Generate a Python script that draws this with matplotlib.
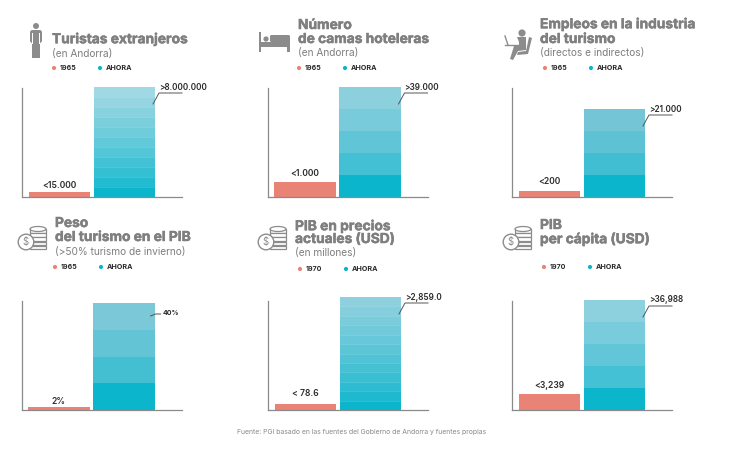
import numpy as np
import matplotlib
matplotlib.use("Agg")
import matplotlib.pyplot as plt
import matplotlib.patheffects as pe
from matplotlib.colors import to_rgb
from matplotlib.patches import Circle, Ellipse, FancyBboxPatch, Polygon, Rectangle

# chart data, bar heights
titles = [
    ["Turistas extranjeros"],
    ["Número", "de camas hoteleras"],
    ["Empleos en la industria", "del turismo"],
    ["Peso", "del turismo en el PIB"],
    ["PIB en precios", "actuales (USD)"],
    ["PIB", "per cápita (USD)"],
]
subtitles = ["(en Andorra)", "(en Andorra)", "(directos e indirectos)",
             "(>50% turismo de invierno)", "(en millones)", ""]
old_years = ["1965", "1965", "1965", "1965", "1970", "1970"]
old_labels = ["<15.000", "<1.000", "<200", "2%", "< 78.6", "<3,239"]
new_labels = [">8.000.000", ">39.000", ">21.000", "40%", ">2,859.0", ">36,988"]
old_heights = [5, 15, 6, 3, 6, 16]
new_heights = [110, 110, 88, 107, 113, 110]
segments = [11, 5, 4, 4, 12, 5]

# layout in image pixels
W, H = 737, 451
axis_x = [22, 267.5, 512, 21.5, 268, 512]
base_y = [197, 197, 197, 410, 410, 410]
title_x = [52, 298, 540, 55, 295, 540]
title_y = [[39], [25, 39], [24, 39], [223, 237], [226, 239], [225, 239]]
sub_y = [54, 53, 53, 252, 253, 0]
legend_x = [54, 299, 545, 55, 300, 544]
legend_y = [68, 68, 68, 267, 269, 267]
old_label_y = [185, 173, 181, 402, 394, 386]
top_colors = ["#A0D8E3", "#8CCFDD", "#74C6D6", "#7AC8D8", "#8FD0DE", "#8DD0DE"]

GREY = "#7F7F7F"
SALMON = "#E98375"
TEAL = "#0BB5CC"
AXIS = "#8A8A8A"
ICON = "#8C8C8C"
TEXT = "#2B2B2B"

plt.rcParams["font.family"] = ["Inter", "DejaVu Sans"]
fig = plt.figure(figsize=(W / 100, H / 100), dpi=100)

for i in range(6):
    x0, y0 = axis_x[i], base_y[i]
    ax = fig.add_axes([x0 / W, 1 - y0 / H, 160 / W, 120 / H])
    ax.set_xlim(-0.577, 1.885)
    ax.set_ylim(0, 120)
    ax.patch.set_alpha(0)
    ax.bar(0, old_heights[i], width=0.94, color=SALMON)
    seg = new_heights[i] / segments[i]
    bottom = np.array(to_rgb(TEAL))
    top = np.array(to_rgb(top_colors[i]))
    power = 0.8 if segments[i] > 8 else 0.6
    for k in range(segments[i]):
        col = bottom + (top - bottom) * (k / (segments[i] - 1)) ** power
        ax.bar(1, seg, bottom=k * seg, width=0.94, color=col)
        # the many-step bars have thin pale rules between steps
        if segments[i] > 8 and k > 0:
            ax.plot([0.53, 1.47], [k * seg, k * seg], color="white", alpha=0.15, lw=0.6)
    for side in ["top", "right"]:
        ax.spines[side].set_visible(False)
    for side in ["left", "bottom"]:
        ax.spines[side].set_color(AXIS)
        ax.spines[side].set_linewidth(0.9)
    ax.spines["left"].set_bounds(0, 109)
    ax.set_xticks([])
    ax.set_yticks([])

# overlay in pixel coordinates for headers, labels and icons
ov = fig.add_axes([0, 0, 1, 1], zorder=5)
ov.set_xlim(0, W)
ov.set_ylim(H, 0)
ov.axis("off")
ov.patch.set_alpha(0)


def person_icon(x, y):
    ov.add_patch(Circle((x, y - 14), 3, color=ICON, lw=0))
    ov.add_patch(FancyBboxPatch((x - 6, y - 10), 12, 13, boxstyle="round,pad=0,rounding_size=2.5", color=ICON, lw=0))
    ov.add_patch(Rectangle((x - 3.6, y), 3.3, 18, color=ICON, lw=0))
    ov.add_patch(Rectangle((x + 0.3, y), 3.3, 18, color=ICON, lw=0))
    ov.add_patch(Rectangle((x - 3.9, y - 7), 0.8, 11, color="white", lw=0))
    ov.add_patch(Rectangle((x + 3.1, y - 7), 0.8, 11, color="white", lw=0))


def bed_icon(x, y):
    ov.add_patch(Rectangle((x, y - 10), 2.5, 20, color=ICON, lw=0))
    ov.add_patch(Rectangle((x + 28.5, y - 1), 2.5, 11, color=ICON, lw=0))
    ov.add_patch(Rectangle((x, y), 31, 5, color=ICON, lw=0))
    ov.add_patch(Circle((x + 7, y - 3), 2.6, color=ICON, lw=0))
    ov.add_patch(FancyBboxPatch((x + 11, y - 7), 20, 7, boxstyle="round,pad=0,rounding_size=1.5", color=ICON, lw=0))


def worker_icon(x, y):
    ov.add_patch(Circle((x + 10, y - 9), 3.6, color=ICON, lw=0))
    ov.add_patch(Polygon([(x + 5, y - 5), (x + 14, y - 5), (x + 14, y + 8), (x + 6, y + 9), (x + 1, y + 18),
                          (x - 2, y + 17), (x + 2, y + 4), (x + 7, y + 3), (x + 7, y)], color=ICON, lw=0))
    ov.add_patch(Polygon([(x + 17, y - 5), (x + 20, y - 4), (x + 16, y + 12), (x + 5, y + 13), (x + 6, y + 10),
                          (x + 14, y + 9)], color=ICON, lw=0))
    ov.plot([x - 7, x + 8], [y + 3, y + 3], color=ICON, lw=1)
    ov.plot([x - 7, x - 4], [y - 6, y + 3], color=ICON, lw=1)


def coin_icon(x, y):
    for k in range(5):
        ov.add_patch(Rectangle((x + 2, y - 13 + k * 4.2), 16, 3.6, fc="white", ec=ICON, lw=0.9))
    ov.add_patch(Ellipse((x + 10, y - 13), 16, 5, fc="white", ec=ICON, lw=0.9))
    ov.add_patch(Circle((x - 2, y), 7.8, fc="white", ec=ICON, lw=1, zorder=3))
    ov.text(x - 2, y, "$", color=ICON, fontsize=7, ha="center", va="center", zorder=4)


person_icon(36, 40)
bed_icon(259, 42)
worker_icon(512, 42)
coin_icon(28, 242)
coin_icon(268, 242)
coin_icon(513, 242)

for i in range(6):
    for line, y in zip(titles[i], title_y[i]):
        ov.text(title_x[i], y, line, color=GREY, fontsize=9.9, fontweight="bold", va="center",
                path_effects=[pe.withStroke(linewidth=0.35, foreground=GREY)])
    if subtitles[i]:
        ov.text(title_x[i], sub_y[i], subtitles[i], color=GREY, fontsize=7.3, va="center")
    lx, ly = legend_x[i], legend_y[i]
    ov.scatter([lx, lx + 46], [ly, ly], s=9, c=[SALMON, TEAL], linewidths=0)
    ov.text(lx + 6, ly, old_years[i], color=TEXT, fontsize=5, fontweight="bold", va="center")
    ov.text(lx + 52, ly, "AHORA", color=TEXT, fontsize=5.2, fontweight="bold", va="center")

    x0, y0 = axis_x[i], base_y[i]
    ov.text(x0 + 37.5, old_label_y[i], old_labels[i], color=TEXT, fontsize=6.2, fontweight="semibold", ha="center", va="center")
    right = x0 + 133
    top = y0 - new_heights[i]
    if i == 3:
        ov.plot([right - 4, right + 1, right + 6], [316, 314, 314], color="#555555", lw=0.7)
        ov.text(right + 8, 313, new_labels[i], color=TEXT, fontsize=5, fontweight="bold", va="center")
    else:
        ov.plot([right - 2, right + 4, right + 27], [top + 17, top + 6, top + 6], color="#555555", lw=0.7)
        ov.text(right + 4, top, new_labels[i], color=TEXT, fontsize=5.9, fontweight="semibold", va="center")

ov.text(237, 432, "Fuente: PGI basado en las fuentes del Gobierno de Andorra y fuentes propias",
        color="#8A8A8A", fontsize=4.95, va="center")

fig.savefig("out.png", dpi=100)
